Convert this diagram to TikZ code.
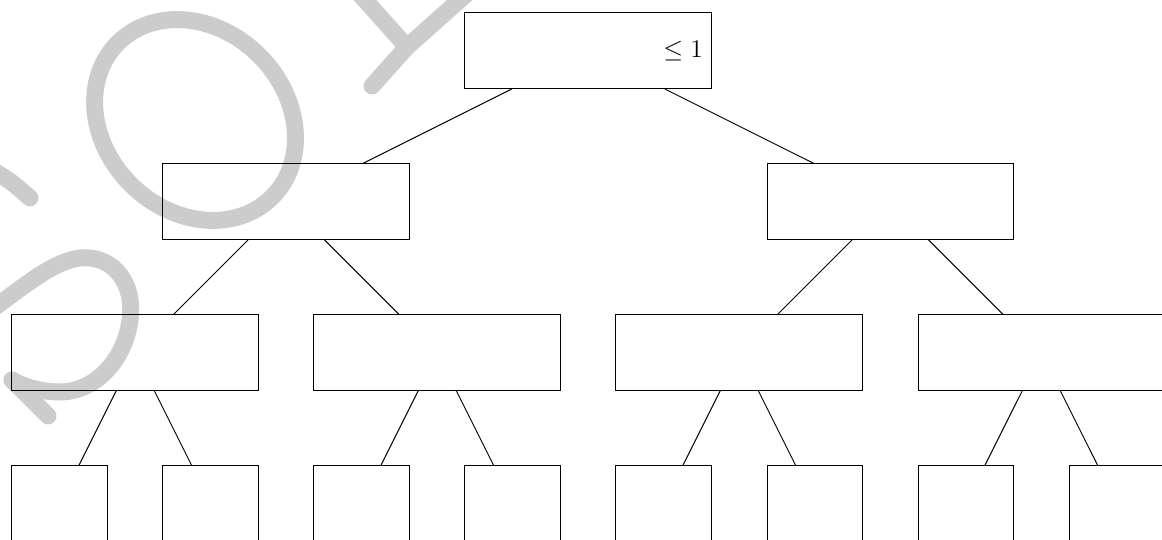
\documentclass[tikz,border=0pt]{standalone}
\usepackage{tikz}
\usetikzlibrary{positioning}

\begin{document}
\begin{tikzpicture}[x=1cm, y=1cm, line width=0.55pt,
  box/.style={draw, rectangle, minimum width=4.9cm, minimum height=1.5cm, inner sep=0pt},
  leaf/.style={draw, rectangle, minimum width=1.9cm, minimum height=1.5cm, inner sep=0pt},
  wmark/.style={line width=9.6pt, draw=black!20, line cap=round, line join=round}]
  \useasboundingbox (-1.188,-9.701) rectangle (21.898,1.008);
  \clip (-1.188,-9.701) rectangle (21.898,1.008);
  % watermark strokes (pixel grid of the page)
  \draw[wmark, rotate around={-45:(2.687,-1.376)}] (2.687,-1.376) ellipse [x radius=2.166, y radius=1.808];
  \begin{scope}[shift={(-1.188,1.008)}, x=0.01987cm, y=-0.01987cm]
    \draw[wmark] (372,86) -- (407,47) -- (471,-10);
    \draw[wmark] (407,47) -- (356,-10);
    \draw[wmark] (-20,165) .. controls (5,175) and (15,185) .. (30,198);
    \draw[wmark] (-20,318) .. controls (20,290) and (50,262) .. (80,258)
      .. controls (115,255) and (135,285) .. (130,320)
      .. controls (125,360) and (95,392) .. (60,392)
      .. controls (40,392) and (22,386) .. (12,380);
    \draw[wmark] (12,380) -- (48,416);
  \end{scope}
  % levels of the tree
  \node[box, text width=4.55cm, inner xsep=0.175cm, align=flush right,
    font=\fontsize{13.5}{16}\selectfont] (root) at (10.5,0) {$\leq 1$};
  \foreach \i/\xx in {1/4.5, 2/16.5}
    \node[box] (m\i) at (\xx,-3) {};
  \foreach \i/\xx in {1/1.5, 2/7.5, 3/13.5, 4/19.5}
    \node[box] (n\i) at (\xx,-6) {};
  \foreach \i in {1,...,8}
    \node[leaf] (l\i) at ({(\i-1)*3},-9) {};
  % edges
  \draw (root) -- (m1);
  \draw (root) -- (m2);
  \foreach \i/\p in {1/1, 2/1, 3/2, 4/2}
    \draw (m\p) -- (n\i);
  \foreach \i/\p in {1/1, 2/1, 3/2, 4/2, 5/3, 6/3, 7/4, 8/4}
    \draw (n\p) -- (l\i);
\end{tikzpicture}
\end{document}
